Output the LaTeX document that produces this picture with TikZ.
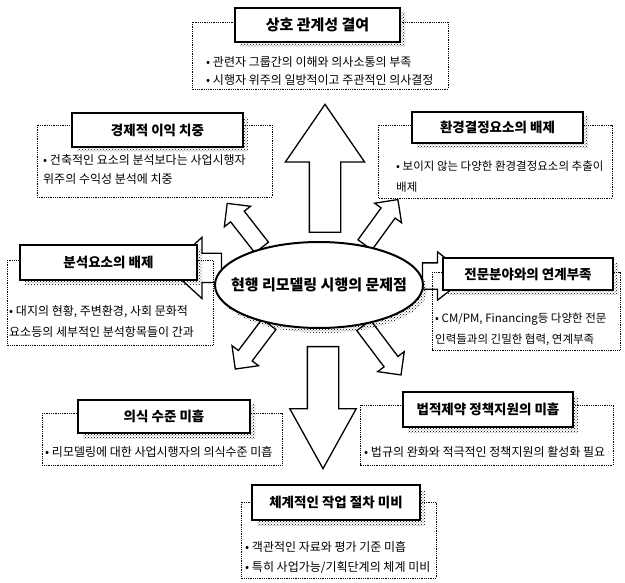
\documentclass[tikz,border=0pt]{standalone}
\usepackage{fontspec}
\newfontfamily\krfont{Noto Sans CJK KR}
\usepackage{tikz}
\usetikzlibrary{shapes.geometric,shapes.arrows,patterns}
\pgfdeclarelayer{background}
\pgfsetlayers{background,main}

\begin{document}
\begin{tikzpicture}[
  x=1pt, y=-1pt,
  titlebox/.style={draw, line width=2pt, fill=white, minimum width=170pt, minimum height=34pt,
    font=\krfont\bfseries\fontsize{13.5}{13.5}\selectfont,
    preaction={pattern=crosshatch dots, transform canvas={shift={(5pt,-5pt)}}}},
  descframe/.style={densely dotted, line width=0.8pt},
  desc/.style={anchor=west, align=left, inner sep=0pt, font=\krfont\fontsize{12}{21}\selectfont},
  blockarrow/.style={single arrow, draw, fill=white, line width=1.3pt, inner xsep=0pt,
    single arrow head indent=0pt, anchor=tail},
  every node/.style={font=\krfont}
]
\useasboundingbox (0,0) rectangle (625,583);

% centre
\node[ellipse, draw, line width=2pt, fill=white, inner sep=0pt, minimum width=208pt, minimum height=86pt,
  preaction={pattern=crosshatch dots, transform canvas={shift={(4pt,-5pt)}}}] (problem) at (319,285) {};
\node[font=\krfont\bfseries\fontsize{15}{15}\selectfont] (problemtext) at (problem.center) {현행 리모델링 시행의 문제점};

% block arrows
\begin{pgfonlayer}{background}
\node[blockarrow, rotate=90, minimum height=128pt, inner ysep=15pt,
  single arrow head extend=24pt, single arrow tip angle=69] (uparrow) at ([xshift=6pt, yshift=8pt]problem.north) {};
\node[blockarrow, rotate=-90, minimum height=122pt, inner ysep=15pt,
  single arrow head extend=17.5pt, single arrow tip angle=58] (downarrow) at ([xshift=4pt, yshift=-17pt]problem.south) {};
\node[blockarrow, rotate=180, minimum height=53pt, inner ysep=14pt,
  single arrow head extend=16pt, single arrow tip angle=85] (leftarrow) at (problem.170) {};
\node[blockarrow, rotate=0, minimum height=46pt, inner ysep=12.5pt,
  single arrow head extend=11pt, single arrow tip angle=76] (rightarrow) at (problem.5) {};
\node[blockarrow, rotate=128, minimum height=56pt, inner ysep=8pt,
  single arrow head extend=8pt, single arrow tip angle=90] (ularrow) at (problem.147) {};
\node[blockarrow, rotate=54, minimum height=56pt, inner ysep=8pt,
  single arrow head extend=8pt, single arrow tip angle=90] (urarrow) at (problem.41) {};
\node[blockarrow, rotate=-127, minimum height=56pt, inner ysep=8pt,
  single arrow head extend=8pt, single arrow tip angle=90] (llarrow) at (problem.218) {};
\node[blockarrow, rotate=-53, minimum height=62pt, inner ysep=8pt,
  single arrow head extend=8pt, single arrow tip angle=90] (lrarrow) at (problem.-42) {};
\end{pgfonlayer}

% top
\draw[descframe] (192,22) rectangle (448,89);
\node[titlebox, minimum width=165pt, font=\krfont\bfseries\fontsize{15}{15}\selectfont] (sangho) at (317.5,25) {상호 관계성 결여};
\node[desc, font=\krfont\fontsize{12}{18}\selectfont] (sanghotext) at (206,71)
  {• 관련자 그룹간의 이해와 의사소통의 부족\\• 시행자 위주의 일방적이고 주관적인 의사결정};

% upper left
\draw[descframe] (37,125) rectangle (272,197);
\node[titlebox, minimum width=171pt] (gyeongje) at (157.5,130) {경제적 이익 치중};
\node[desc, font=\krfont\fontsize{12}{19}\selectfont] (gyeongjetext) at (43,169)
  {• 건축적인 요소의 분석보다는 사업시행자\\위주의 수익성 분석에 치중};

% upper right
\draw[descframe] (378,125) rectangle (612,198);
\node[titlebox, minimum width=171pt, minimum height=31pt] (hwangyeong) at (497.5,127.5) {환경결정요소의 배제};
\node[desc, font=\krfont\fontsize{11.5}{21}\selectfont] (hwangyeongtext) at (396,177)
  {• 보이지 않는 다양한 환경결정요소의 추출이\\배제};

% left
\draw[descframe] (7,260) rectangle (213,345);
\node[titlebox, minimum width=177pt, minimum height=35pt] (bunseok) at (108.5,262.5) {분석요소의 배제};
\node[desc] (bunseoktext) at (9,321)
  {• 대지의 현황, 주변환경, 사회 문화적\\요소등의 세부적인 분석항목들이 간과};

% right
\draw[descframe] (432,272) rectangle (620,350);
\node[titlebox, minimum height=32pt] (jeonmun) at (528,274) {전문분야와의 연계부족};
\node[desc, font=\krfont\fontsize{11.5}{21}\selectfont] (jeonmuntext) at (435,329)
  {• CM/PM, Financing등 다양한 전문\\인력들과의 긴밀한 협력, 연계부족};

% lower left
\draw[descframe] (42,413) rectangle (282,465);
\node[titlebox, minimum width=172pt, minimum height=33pt] (uisik) at (164,416.5) {의식 수준 미흡};
\node[desc] (uisiktext) at (45,452) {• 리모델링에 대한 사업시행자의 의식수준 미흡};

% lower right
\draw[descframe] (360,405) rectangle (613,465);
\node[titlebox, minimum height=35pt] (beopjeok) at (488,409.5) {법적제약 정책지원의 미흡};
\node[desc] (beopjeoktext) at (364,452) {• 법규의 완화와 적극적인 정책지원의 활성화 필요};

% bottom
\draw[descframe] (241,502) rectangle (436,578);
\node[titlebox, minimum width=168pt, minimum height=35pt] (chegye) at (336,502.5) {체계적인 작업 절차 미비};
\node[desc, font=\krfont\fontsize{12}{20}\selectfont] (chegyetext) at (245,558)
  {• 객관적인 자료와 평가 기준 미흡\\• 특히 사업가능/기획단계의 체계 미비};

\end{tikzpicture}
\end{document}
